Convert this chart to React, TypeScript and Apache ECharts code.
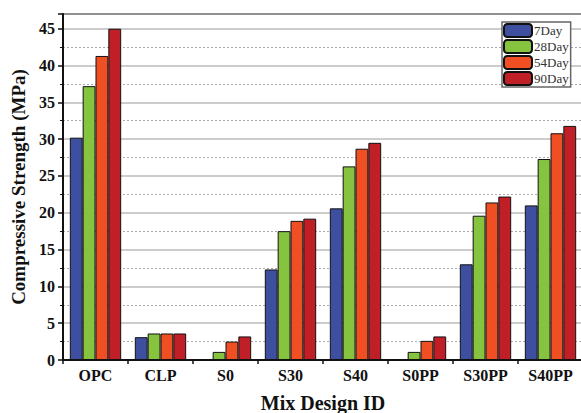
import React, { useEffect, useRef } from "react";
import * as echarts from "echarts";

const categories = ["OPC", "CLP", "S0", "S30", "S40", "S0PP", "S30PP", "S40PP"];
const seriesNames = ["7Day", "28Day", "54Day", "90Day"];
const day7 = [30.2, 3.1, 0.1, 12.3, 20.6, 0.1, 13.0, 21.0];
const day28 = [37.2, 3.6, 1.1, 17.5, 26.3, 1.1, 19.6, 27.3];
const day54 = [41.3, 3.6, 2.5, 18.9, 28.7, 2.6, 21.4, 30.8];
const day90 = [45.0, 3.6, 3.2, 19.2, 29.5, 3.2, 22.2, 31.8];
const colors = ["#3F4FA0", "#86C440", "#F04E23", "#C01F27"];

const serif = "'Liberation Serif', 'Times New Roman', serif";

export default function App() {
  const ref = useRef<HTMLDivElement>(null);
  useEffect(() => {
    if (!ref.current) return;
    const chart = echarts.init(ref.current, null, { renderer: "svg" });
    const data = [day7, day28, day54, day90];
    chart.setOption({
      animation: false,
      grid: {
        left: 63,
        right: -2,
        top: 14,
        bottom: 53,
        outerBoundsMode: "none",
        containLabel: false,
        show: true,
        borderColor: "#111",
        borderWidth: 2,
        backgroundColor: "transparent",
      },
      legend: {
        orient: "vertical",
        left: 502,
        top: 22,
        itemWidth: 28,
        itemHeight: 13,
        itemGap: 1,
        padding: [1, 2, 1, 1],
        backgroundColor: "#fff",
        borderColor: "#666",
        borderWidth: 1.5,
        textStyle: { fontFamily: serif, fontSize: 13, color: "#333", padding: [0, 0, 0, -3] },
        data: seriesNames,
      },
      xAxis: {
        type: "category",
        data: categories,
        name: "Mix Design ID",
        nameLocation: "middle",
        nameGap: 33,
        nameTextStyle: { fontFamily: serif, fontSize: 20, fontWeight: "bold", color: "#111" },
        axisLine: { lineStyle: { color: "#111", width: 2 } },
        axisTick: { show: true, length: 4, lineStyle: { color: "#111", width: 1.5 } },
        axisLabel: { fontFamily: serif, fontSize: 16, fontWeight: "bold", color: "#111", margin: 7 },
      },
      yAxis: {
        type: "value",
        min: 0,
        max: 47,
        interval: 5,
        name: "Compressive Strength (MPa)",
        nameLocation: "middle",
        nameGap: 35,
        nameTextStyle: { fontFamily: serif, fontSize: 19, fontWeight: "bold", color: "#111" },
        axisLine: { show: true, lineStyle: { color: "#111", width: 2 } },
        axisTick: { show: true, length: 5, lineStyle: { color: "#111", width: 1.5 } },
        minorTick: { show: true, splitNumber: 2, length: 3, lineStyle: { color: "#111", width: 1 } },
        axisLabel: { fontFamily: serif, fontSize: 16, fontWeight: "bold", color: "#111", margin: 8, showMaxLabel: false },
        splitLine: { show: true, lineStyle: { color: "#bbb", width: 1.5 } },
        minorSplitLine: { show: true, lineStyle: { color: "#aaa", type: [2, 2], width: 1 } },
      },
      series: seriesNames.map((name, i) => ({
        name,
        type: "bar",
        data: data[i],
        barGap: "0%",
        barCategoryGap: "21%",
        itemStyle: { color: colors[i], borderColor: "#111", borderWidth: 1 },
      })),
    });
    return () => chart.dispose();
  }, []);
  return <div ref={ref} style={{ width: 581, height: 413, position: "absolute", left: 0, top: 0 }} />;
}
